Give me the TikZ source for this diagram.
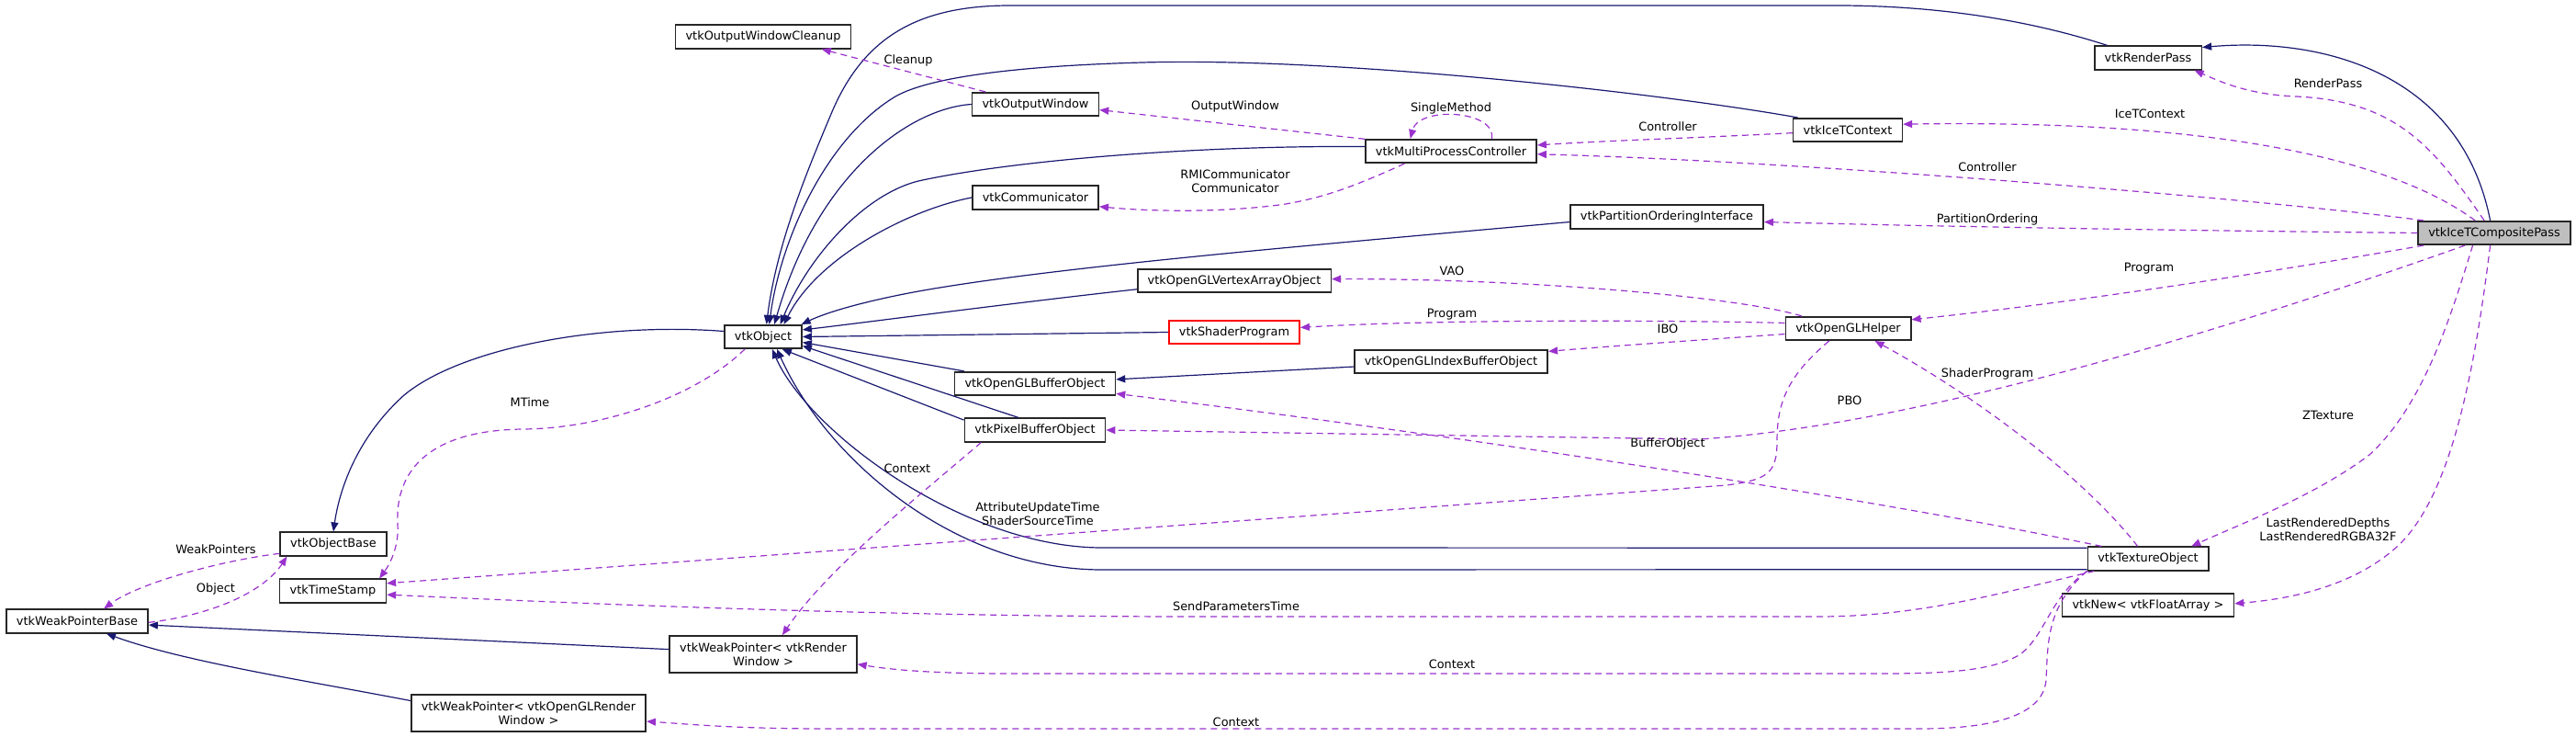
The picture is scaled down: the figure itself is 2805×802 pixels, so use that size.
\documentclass[tikz,border=0pt]{standalone}
\usepackage{fontspec}
\setmainfont{DejaVu Sans}
\usetikzlibrary{arrows.meta}
\definecolor{edgeblue}{HTML}{191970}
\definecolor{edgepurple}{HTML}{9A32CD}

\begin{document}
\begin{tikzpicture}[
            x=1pt, y=-1pt,
            font=\fontsize{12.9}{15}\selectfont,
            class_style/.style={rectangle, draw=black!85, line width=1.6pt, fill=white, inner xsep=11pt, inner ysep=3pt, minimum height=25.5pt, align=center},
            wide_style/.style={class_style, minimum height=40pt},
            main_style/.style={class_style, fill=black!25},
            red_style/.style={class_style, draw=red},
            label_style/.style={inner sep=0pt, align=center},
            inherit_line/.style={-{Triangle[length=10pt, width=8pt]}, draw=edgeblue, line width=1.2pt},
            use_line/.style={-{Triangle[length=10pt, width=8pt]}, draw=edgepurple, line width=1.2pt, dash pattern=on 7pt off 5pt}
        ]
        \useasboundingbox (0,0) rectangle (2805,802);

        % Classes
        \node (owclean) [class_style] at (831,40) {vtkOutputWindowCleanup};
        \node (obj) [class_style] at (831,366.5) {vtkObject};
        \node (objbase) [class_style] at (363,592) {vtkObjectBase};
        \node (tstamp) [class_style] at (362.5,643) {vtkTimeStamp};
        \node (wpbase) [class_style] at (84,676) {vtkWeakPointerBase};
        \node (wprw) [wide_style] at (831,712) {vtkWeakPointer< vtkRender\\Window >};
        \node (wporw) [wide_style] at (575.5,776) {vtkWeakPointer< vtkOpenGLRender\\Window >};
        \node (owin) [class_style] at (1127.5,113.5) {vtkOutputWindow};
        \node (comm) [class_style] at (1127.5,215) {vtkCommunicator};
        \node (globj) [class_style] at (1127,417.5) {vtkOpenGLBufferObject};
        \node (pbo) [class_style] at (1127,468) {vtkPixelBufferObject};
        \node (vao) [class_style] at (1344,305.5) {vtkOpenGLVertexArrayObject};
        \node (shprog) [red_style] at (1344,361.5) {vtkShaderProgram};
        \node (mpc) [class_style] at (1580,164.5) {vtkMultiProcessController};
        \node (ibo) [class_style] at (1580,393.5) {vtkOpenGLIndexBufferObject};
        \node (poi) [class_style] at (1815,236) {vtkPartitionOrderingInterface};
        \node (icectx) [class_style] at (2012,141.5) {vtkIceTContext};
        \node (helper) [class_style] at (2012.5,357.5) {vtkOpenGLHelper};
        \node (rpass) [class_style] at (2339,63) {vtkRenderPass};
        \node (comp) [main_style] at (2716,253.5) {vtkIceTCompositePass};
        \node (tex) [class_style] at (2339,608) {vtkTextureObject};
        \node (newfa) [class_style] at (2339,658.5) {vtkNew< vtkFloatArray >};

        % Inheritance
        \draw [inherit_line] (obj.172) .. controls (650,350) and (500,380) .. (440,430) .. controls (390,475) and (370,530) .. (objbase.north);
        \draw [inherit_line] (rpass.163) .. controls (2210,22) and (2110,6) .. (2000,6) -- (1100,6) .. controls (1000,6) and (940,40) .. (905,124) .. controls (875,195) and (845,270) .. (obj.75);
        \draw [inherit_line] (icectx.166) .. controls (1800,100) and (1450,62) .. (1244,68) .. controls (1100,72) and (1010,85) .. (975,105) .. controls (900,150) and (850,260) .. (obj.64);
        \draw [inherit_line] (owin.west) .. controls (990,118) and (890,190) .. (obj.48);
        \draw [inherit_line] (mpc.177) .. controls (1300,158) and (1100,175) .. (1000,197) .. controls (940,212) and (880,280) .. (obj.36);
        \draw [inherit_line] (comm.west) .. controls (990,228) and (890,280) .. (obj.31);
        \draw [inherit_line] (poi.183) .. controls (1450,265) and (1150,290) .. (1000,317) .. controls (940,328) and (900,340) .. (obj.18);
        \draw [inherit_line] (vao.185) .. controls (1100,330) and (950,350) .. (obj.10);
        \draw [inherit_line] (shprog.west) -- (obj.east);
        \draw [inherit_line] (globj.170) -- (obj.-8);
        \draw [inherit_line] (pbo.143) -- (obj.-13);
        \draw [inherit_line] (pbo.172) -- (obj.-33);
        \draw [inherit_line] (tex.170) -- (1200,596) .. controls (1050,596) and (880,470) .. (obj.-54);
        \draw [inherit_line] (tex.190) -- (1200,620) .. controls (1040,620) and (900,500) .. (obj.-42);
        \draw [inherit_line] (ibo.183) -- (globj.3);
        \draw [inherit_line] (wprw.177) -- (wpbase.-3);
        \draw [inherit_line] (wporw.174) .. controls (330,740) and (200,720) .. (wpbase.-23);
        \draw [inherit_line] (comp.108) .. controls (2680,80) and (2530,40) .. (rpass.11);

        % Usage
        \draw [use_line] (owin.166) -- (owclean.-12);
        \draw [use_line] (objbase.190) .. controls (240,610) and (150,635) .. (wpbase.25);
        \draw [use_line] (wpbase.-1) .. controls (240,668) and (290,640) .. (objbase.195);
        \draw [use_line] (obj.214) .. controls (760,430) and (660,466) .. (570,467) .. controls (470,468) and (430,510) .. (433,570) .. controls (435,600) and (420,620) .. (tstamp.15);
        \draw [use_line] (mpc.172) -- (owin.-5);
        \draw [use_line] (mpc.17) .. controls (1630,120) and (1545,115) .. (mpc.163);
        \draw [use_line] (mpc.195) .. controls (1470,205) and (1440,215) .. (1400,222) .. controls (1330,232) and (1250,230) .. (comm.-8);
        \draw [use_line] (icectx.183) .. controls (1850,150) and (1750,153) .. (mpc.4);
        \draw [use_line] (comp.170) .. controls (2450,215) and (1950,175) .. (mpc.-2);
        \draw [use_line] (comp.147) .. controls (2600,170) and (2400,130) .. (icectx.6);
        \draw [use_line] (comp.129) .. controls (2650,160) and (2610,110) .. (2500,105) .. controls (2450,103) and (2420,90) .. (rpass.-15);
        \draw [use_line] (comp.west) .. controls (2300,250) and (2100,246) .. (poi.-3);
        \draw [use_line] (comp.190) .. controls (2450,300) and (2250,330) .. (helper.8);
        \draw [use_line] (comp.203) .. controls (2450,350) and (2100,462) .. (1850,478) -- (pbo.east);
        \draw [use_line] (comp.210) .. controls (2670,340) and (2640,440) .. (2580,495) .. controls (2520,540) and (2440,570) .. (tex.16);
        \draw [use_line] (comp.252) .. controls (2695,400) and (2670,540) .. (2610,595) .. controls (2560,640) and (2490,652) .. (newfa.1);
        \draw [use_line] (helper.165) .. controls (1890,322) and (1650,303) .. (vao.1);
        \draw [use_line] (helper.175) .. controls (1800,348) and (1550,348) .. (shprog.4);
        \draw [use_line] (helper.185) .. controls (1850,370) and (1750,377) .. (ibo.6);
        \draw [use_line] (helper.213) .. controls (1945,410) and (1935,440) .. (1935,480) .. controls (1935,515) and (1925,522) .. (1880,528) -- (tstamp.8);
        \draw [use_line] (tex.130) .. controls (2270,520) and (2150,430) .. (helper.-25);
        \draw [use_line] (tex.165) .. controls (2100,555) and (1700,488) .. (globj.-7);
        \draw [use_line] (tex.193) .. controls (2180,645) and (2090,671) .. (1980,671) -- (1300,671) .. controls (1000,671) and (700,660) .. (tstamp.-4);
        \draw [use_line] (tex.south west) .. controls (2232,650) and (2228,690) .. (2200,712) .. controls (2170,730) and (2120,733) .. (2050,733) -- (1100,733) .. controls (1000,733) and (960,727) .. (wprw.-6);
        \draw [use_line] (tex.south west) .. controls (2228,660) and (2230,700) .. (2228,740) .. controls (2225,775) and (2180,793) .. (2090,793) -- (900,793) .. controls (800,793) and (750,788) .. (wporw.-4);
        \draw [use_line] (pbo.193) .. controls (1000,540) and (900,620) .. (wprw.45);

        % Labels
        \node (lCleanup) [label_style] at (989,66) {Cleanup};
        \node (lWeakPointers) [label_style] at (235,598) {WeakPointers};
        \node (lObject) [label_style] at (235,641) {Object};
        \node (lMTime) [label_style] at (577,438) {MTime};
        \node (lOutputWindow) [label_style] at (1345,116) {OutputWindow};
        \node (lSingleMethod) [label_style] at (1580,118) {SingleMethod};
        \node (lCommunicator) [label_style] at (1345,197) {RMICommunicator\\Communicator};
        \node (lController) [label_style] at (1816,138) {Controller};
        \node (lControllerB) [label_style] at (2164,182) {Controller};
        \node (lIceTContext) [label_style] at (2341,124) {IceTContext};
        \node (lRenderPass) [label_style] at (2535,91) {RenderPass};
        \node (lPartition) [label_style] at (2164,239) {PartitionOrdering};
        \node (lProgramB) [label_style] at (2340,292) {Program};
        \node (lVAO) [label_style] at (1581,295) {VAO};
        \node (lProgram) [label_style] at (1581,342) {Program};
        \node (lIBO) [label_style] at (1816,358) {IBO};
        \node (lShaderProgram) [label_style] at (2164,407) {ShaderProgram};
        \node (lPBO) [label_style] at (2014,436) {PBO};
        \node (lZTexture) [label_style] at (2535,452) {ZTexture};
        \node (lBufferObject) [label_style] at (1816,483) {BufferObject};
        \node (lContextA) [label_style] at (988,510) {Context};
        \node (lTimes) [label_style] at (1130,559) {AttributeUpdateTime\\ShaderSourceTime};
        \node (lLastRendered) [label_style] at (2535,576) {LastRenderedDepths\\LastRenderedRGBA32F};
        \node (lSendParameters) [label_style] at (1346,660) {SendParametersTime};
        \node (lContextB) [label_style] at (1581,723) {Context};
        \node (lContextC) [label_style] at (1346,786) {Context};

    \end{tikzpicture}
\end{document}
